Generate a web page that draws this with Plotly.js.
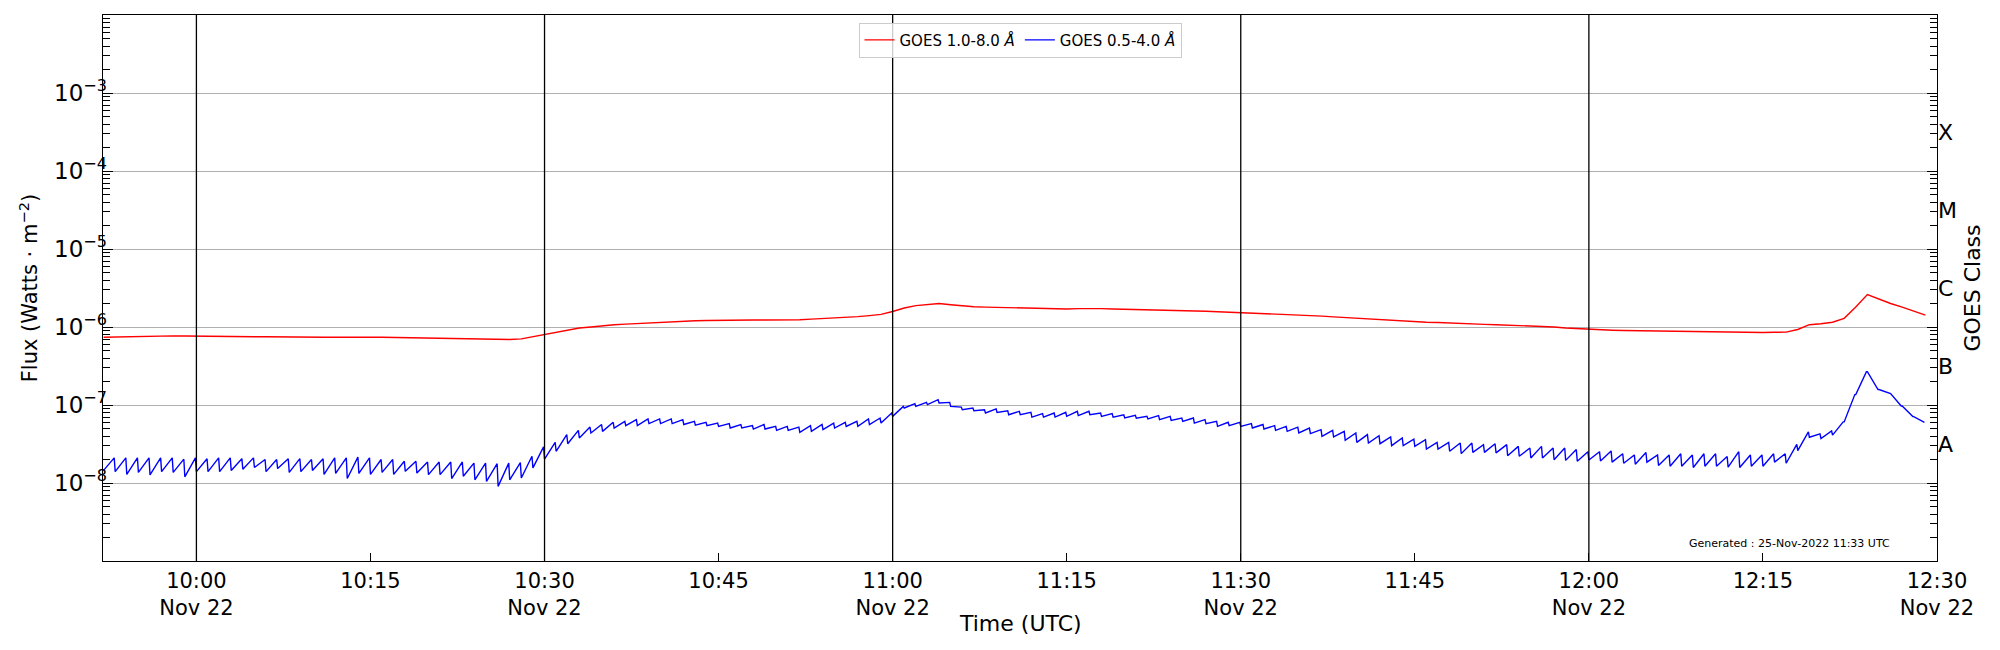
<!DOCTYPE html>
<html>
<head>
<meta charset="utf-8">
<script src="https://cdn.plot.ly/plotly-3.0.1.min.js"></script>
<style>html,body{margin:0;padding:0;background:#fff}</style>
</head>
<body>
<div id="chart" style="width:2000px;height:650px"></div>
<script>
// ---------------- DATA ----------------
// First sample time; one sample set per minute
const firstMinute = '2022-11-22T09:52:00Z';

// GOES 0.5-4.0 Å flux at the start of each minute (units of 1e-8 W/m^2), 09:52 ... 12:28
const blueStart_e8 = [
  1.45,1.4,1.29,1.37,1.27,1.4,1.37,1.2,
  1.4,1.4,1.4,1.45,1.5,1.58,1.4,1.53,1.37,1.4,
  1.45,1.29,1.33,1.14,1.33,1.29,1.37,1.29,1.41,1.34,
  1.28,1.28,1.14,1.22,1.1,1.05,0.906,1.1,1.16,1.56,
  2.03,2.55,3.19,3.78,4.38,4.59,5.07,5.43,5.43,5.77,
  5.77,5.77,5.62,5.5,5.43,5.32,5.07,5.07,4.92,4.92,
  4.73,4.73,4.47,4.59,4.83,5.07,5.32,5.32,5.62,5.87,
  7.15,9.15,9.6,10.1,10.6,9.6,8.7,8.45,7.9,8.05,
  7.5,7.5,7.0,7.0,7.0,7.15,7.3,7.5,7.15,7.0,
  6.81,6.75,6.62,6.49,6.35,6.18,5.87,5.77,5.32,5.43,
  5.32,5.07,4.92,4.73,4.59,4.38,4.29,3.96,3.89,3.52,
  3.32,3.26,3.19,3.01,3.01,2.95,2.73,2.73,2.55,2.38,
  2.47,2.47,2.43,2.24,2.2,2.09,2.09,1.99,1.95,1.9,
  1.97,1.92,1.85,1.79,1.74,1.85,1.68,1.64,1.64,1.58,
  1.64,1.64,1.6,1.58,1.64,1.64,1.85,1.79,2.6,3.86,
  3.72,4.11,6.07,13.6,26.7,15.8,14.0,9.7,7.1
];
// GOES 0.5-4.0 Å flux at the end of each minute (units of 1e-8 W/m^2)
const blueEnd_e8 = [
  2.1,2.1,2.1,2.1,2.1,2.1,2.02,2.1,
  2.05,2.1,2.1,2.05,2.1,2.0,2.0,2.05,2.05,2.0,
  2.05,2.1,2.1,2.15,2.1,2.0,2.0,1.9,1.9,1.86,
  1.86,1.86,1.86,1.8,1.8,1.77,1.8,1.83,2.2,2.9,
  3.32,4.17,4.73,5.22,5.62,6.0,6.18,6.49,6.62,6.62,
  6.62,6.49,6.18,6.0,5.87,5.77,5.62,5.43,5.62,5.32,
  5.32,5.2,5.43,5.62,5.87,6.0,6.18,6.62,6.81,7.9,
  9.6,10.4,10.8,11.7,10.8,9.4,9.15,8.7,8.9,8.45,
  8.3,8.05,7.75,7.9,8.05,8.3,8.3,7.9,7.75,7.5,
  7.37,7.15,7.3,7.15,6.81,6.81,6.49,6.18,6.0,6.0,
  5.77,5.62,5.43,5.32,5.2,5.07,4.83,4.73,4.59,4.38,
  4.17,4.05,3.89,3.78,3.66,3.6,3.32,3.32,3.26,3.26,
  3.1,3.19,3.1,2.95,2.81,2.95,2.81,2.81,2.68,2.52,
  2.52,2.58,2.37,2.29,2.46,2.29,2.29,2.37,2.29,2.37,
  2.37,2.18,2.52,2.29,2.29,2.37,2.37,3.13,4.53,4.26,
  4.64,6.07,13.6,26.7,15.8,14.0,9.7,7.1,6.0
];
// GOES 1.0-8.0 Å flux each minute (units of 1e-7 W/m^2), 09:52 ... 12:29
const red_e7 = [
  7.4,7.45,7.5,7.55,7.7,7.75,7.7,7.65,
  7.6,7.6,7.6,7.55,7.55,7.5,7.5,7.45,7.45,7.45,
  7.4,7.4,7.4,7.45,7.45,7.4,7.4,7.35,7.3,7.25,
  7.2,7.15,7.1,7.05,7.0,6.95,6.95,6.9,7.05,7.5,
  7.97,8.55,9.1,9.7,10.0,10.4,10.7,10.9,11.1,11.3,
  11.45,11.6,11.8,12.0,12.1,12.2,12.2,12.25,12.3,12.3,
  12.3,12.3,12.4,12.6,12.8,13.0,13.3,13.6,14.0,14.5,
  15.8,17.5,18.8,19.5,20.0,19.3,18.6,18.2,18.0,17.8,
  17.6,17.5,17.3,17.1,17.0,17.0,17.2,17.3,17.2,17.0,
  16.9,16.8,16.7,16.6,16.5,16.3,16.1,15.9,15.7,15.5,
  15.4,15.2,15.0,14.8,14.5,14.3,14.1,13.8,13.5,13.2,
  12.9,12.6,12.4,12.2,12.0,11.7,11.5,11.4,11.2,11.0,
  10.9,10.8,10.7,10.6,10.5,10.4,10.2,10.0,9.7,9.5,
  9.3,9.2,9.1,9.0,8.95,8.9,8.8,8.75,8.7,8.65,
  8.6,8.6,8.6,8.55,8.5,8.5,8.55,8.6,9.3,10.7,
  11.0,11.5,12.9,18.0,26.0,22.6,20.0,18.0,15.8,14.2
];

const seriesNames = ['GOES 1.0-8.0 <i>Å</i>', 'GOES 0.5-4.0 <i>Å</i>'];

const xTickVals = ['2022-11-22 10:00','2022-11-22 10:15','2022-11-22 10:30','2022-11-22 10:45',
  '2022-11-22 11:00','2022-11-22 11:15','2022-11-22 11:30','2022-11-22 11:45',
  '2022-11-22 12:00','2022-11-22 12:15','2022-11-22 12:30'];
const xTickText = ['10:00<br>Nov 22','10:15','10:30<br>Nov 22','10:45','11:00<br>Nov 22','11:15',
  '11:30<br>Nov 22','11:45','12:00<br>Nov 22','12:15','12:30<br>Nov 22'];
const xGridTimes = ['2022-11-22 10:00','2022-11-22 10:30','2022-11-22 11:00','2022-11-22 11:30','2022-11-22 12:00'];

const yTickVals = [1e-8,1e-7,1e-6,1e-5,1e-4,1e-3];
const yTickText = ['10<sup>−8</sup>','10<sup>−7</sup>','10<sup>−6</sup>','10<sup>−5</sup>','10<sup>−4</sup>','10<sup>−3</sup>'];
const classLabels = ['A','B','C','M','X'];
const classCenters = [3.162e-8,3.162e-7,3.162e-6,3.162e-5,3.162e-4];
const minorMultiples = [2,3,4,5,6,7,8,9];
const minorDecades = [1e-9,1e-8,1e-7,1e-6,1e-5,1e-4,1e-3];
const xTitle = 'Time (UTC)';
const generatedNote = 'Generated : 25-Nov-2022 11:33 UTC';

// ---------------- BUILD ----------------
const t0 = Date.parse(firstMinute);
const fmt = ms => new Date(ms).toISOString().slice(0,19).replace('T',' ');

const blueX = [], blueY = [];
for (let i = 0; i < blueStart_e8.length; i++) {
  blueX.push(fmt(t0 + i*60000));        blueY.push(blueStart_e8[i]*1e-8);
  blueX.push(fmt(t0 + i*60000 + 55000)); blueY.push(blueEnd_e8[i]*1e-8);
}
const redX = red_e7.map((v,i) => fmt(t0 + i*60000));
const redY = red_e7.map(v => v*1e-7);

const minorVals = [];
minorDecades.forEach(d => minorMultiples.forEach(m => minorVals.push(m*d)));

const FONT = '"DejaVu Sans", sans-serif';

const traces = [
  {x: redX, y: redY, type:'scatter', mode:'lines', name: seriesNames[0],
   line:{color:'#ff0000', width:1.4}, yaxis:'y'},
  {x: blueX, y: blueY, type:'scatter', mode:'lines', name: seriesNames[1],
   line:{color:'#0000ff', width:1.4}, yaxis:'y2'}
];

const layout = {
  width:2000, height:650,
  margin:{l:103, r:62.5, t:15, b:89},
  paper_bgcolor:'#fff', plot_bgcolor:'#fff',
  font:{family:FONT, color:'#000', size:21},
  showlegend:true,
  legend:{orientation:'h', x:0.5, xanchor:'center', y:0.986, yanchor:'top',
    bordercolor:'#cccccc', borderwidth:1, bgcolor:'rgba(255,255,255,0.8)',
    font:{size:15, family:FONT}},
  xaxis:{type:'date', range:['2022-11-22 09:51:57','2022-11-22 12:30:00'],
    tickmode:'array', tickvals:xTickVals, ticktext:xTickText,
    ticks:'inside', ticklen:8, tickcolor:'#000', tickwidth:1,
    showline:true, linecolor:'#000', linewidth:1.3, mirror:true,
    showgrid:false, zeroline:false, tickfont:{size:21}},
  yaxis:{type:'log', range:[-9,-2], tickmode:'array', tickvals:yTickVals, ticktext:yTickText,
    ticks:'inside', ticklen:10, tickcolor:'#000', tickwidth:1,
    showline:true, linecolor:'#000', linewidth:1.3, mirror:'allticks',
    showgrid:true, gridcolor:'#b0b0b0', gridwidth:1, zeroline:false,
    minor:{tickmode:'array', tickvals:minorVals, ticks:'inside', ticklen:7, tickcolor:'#000', tickwidth:1, showgrid:false},
    tickfont:{size:23}, ticklabelstandoff:-10,
    title:{text:'Flux (Watts · m<sup>−2</sup>)', font:{size:21}, standoff:10}},
  yaxis2:{type:'log', range:[-9,-2], overlaying:'y', side:'right',
    tickmode:'array', tickvals:classCenters, ticktext:classLabels,
    ticks:'', showline:false, showgrid:false, zeroline:false, tickfont:{size:22},
    title:{text:'GOES Class', font:{size:22}, standoff:8}},
  shapes: xGridTimes.map(t => ({type:'line', xref:'x', yref:'paper', x0:t, x1:t, y0:0, y1:1,
    line:{color:'#000', width:1.3}, layer:'above'})),
  annotations:[
    {text:generatedNote, xref:'paper', yref:'paper', x:0.9196, y:0.0317,
     xanchor:'center', yanchor:'middle', showarrow:false, font:{size:11, family:FONT}},
    {text:xTitle, xref:'paper', yref:'paper', x:0.5, y:-0.1148,
     xanchor:'center', yanchor:'middle', showarrow:false, font:{size:22, family:FONT}}
  ]
};

Plotly.newPlot('chart', traces, layout, {staticPlot:true, displayModeBar:false});
</script>
</body>
</html>
